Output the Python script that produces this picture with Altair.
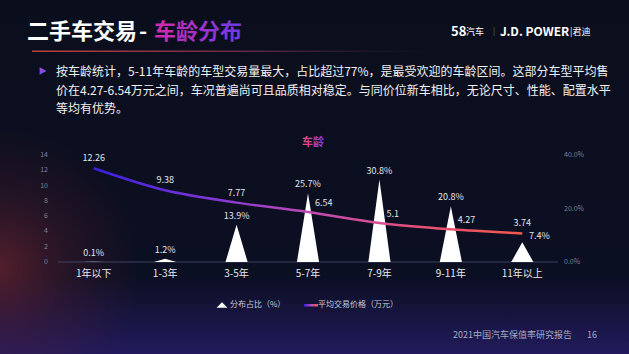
import altair as alt
import pandas as pd

# ---------------- data ----------------
categories = ["1年以下", "1-3年", "3-5年", "5-7年", "7-9年", "9-11年", "11年以上"]
share = [0.1, 1.2, 13.9, 25.7, 30.8, 20.8, 7.4]            # 分布占比 (%)
price = [12.26, 9.38, 7.77, 6.54, 5.1, 4.27, 3.74]          # 平均交易价格 (万元)
price_ticks = [0, 2, 4, 6, 8, 10, 12, 14]
share_ticks = [0, 20, 40]
share_tick_labels = ["0.0%", "20.0%", "40.0%"]
price_label_pos = ["above", "above", "above", "right", "right", "right", "above"]
share_label_pos = ["above", "above", "above", "above", "above", "above", "right"]

title_white = "二手车交易"
title_dash = "-"
title_color = "车龄分布"
body_lines = [
    "按车龄统计，5-11年车龄的车型交易量最大，占比超过77%，是最受欢迎的车龄区间。这部分车型平均售",
    "价在4.27-6.54万元之间，车况普遍尚可且品质相对稳定。与同价位新车相比，无论尺寸、性能、配置水平",
    "等均有优势。",
]
chart_title = "车龄"
legend_share = "分布占比（%）"
legend_price = "平均交易价格（万元）"
footer = "2021中国汽车保值率研究报告"
page_no = "16"

FONT = "Noto Sans CJK SC"
W, H = 629, 354
X_RANGE = [58, 558]
Y_RANGE = [262, 155]
HALF_W = 0.155

main_df = pd.DataFrame({
    "idx": list(range(len(categories))),
    "cat": categories,
    "share": share,
    "price": price,
    "ppos": price_label_pos,
    "spos": share_label_pos,
})
main_df["share_lbl"] = [f"{v}%" for v in share]
main_df["price_lbl"] = [f"{v:g}" for v in price]

tri_rows = []
for i, (c, v) in enumerate(zip(categories, share)):
    tri_rows += [
        {"cat": c, "x": i - HALF_W, "y": 0},
        {"cat": c, "x": i, "y": v},
        {"cat": c, "x": i + HALF_W, "y": 0},
    ]
tri_df = pd.DataFrame(tri_rows)

ptick_df = pd.DataFrame({"v": price_ticks, "lbl": [str(t) for t in price_ticks]})
stick_df = pd.DataFrame({"v": share_ticks, "lbl": share_tick_labels})
one = pd.DataFrame({"a": [1]})

xs = alt.Scale(domain=[-0.5, len(categories) - 0.5], range=X_RANGE)
ys_price = alt.Scale(domain=[0, 14], range=Y_RANGE)
ys_share = alt.Scale(domain=[0, 40], range=Y_RANGE)


def grad(stops, x1=0, y1=0, x2=1, y2=0):
    return {"gradient": "linear", "x1": x1, "y1": y1, "x2": x2, "y2": y2,
            "stops": [{"offset": o, "color": c} for o, c in stops]}


line_grad = grad([(0, "#3a1fe0"), (0.3, "#8538d2"), (0.5, "#c04ab4"),
                  (0.75, "#e4507c"), (1, "#f2574a")])


def rect(x, x2, y, y2, fill):
    return alt.Chart(one).mark_rect(fill=fill).encode(
        x=alt.value(x), x2=alt.value(x2), y=alt.value(y), y2=alt.value(y2))


def txt(t, x, y, size, color, align="left", weight="normal", baseline="middle"):
    return alt.Chart(one).mark_text(
        text=t, font=FONT, fontSize=size, fill=color, align=align,
        fontWeight=weight, baseline=baseline).encode(x=alt.value(x), y=alt.value(y))


layers = []
# ---------------- background ----------------
layers.append(rect(0, W, 0, H, grad([(0, "#0a0e1c"), (0.78, "#0b0f22"), (1, "#221a5c")],
                                     0, 0, 0, 1)))
layers.append(rect(0, 280, 90, H, {
    "gradient": "radial", "x1": 0, "y1": 0.66, "r1": 0, "x2": 0, "y2": 0.66, "r2": 0.5,
    "stops": [{"offset": 0, "color": "rgba(130,40,50,0.6)"},
              {"offset": 0.5, "color": "rgba(110,35,50,0.25)"},
              {"offset": 1, "color": "rgba(110,35,50,0)"}]}))

# ---------------- header ----------------
layers.append(txt(title_white, 27, 32, 22, "#ffffff", weight="bold"))
layers.append(txt(title_dash, 143, 32, 22, "#ffffff", align="center", weight="bold"))
layers.append(alt.Chart(one).mark_text(
    text=title_color, font=FONT, fontSize=22, fontWeight="bold", align="left",
    baseline="middle", fill=grad([(0, "#d42aa8"), (1, "#6a3ae6")])
).encode(x=alt.value(154), y=alt.value(32)))
layers.append(rect(32, 440, 50.5, 52, grad([(0, "#c0403a"), (0.5, "#6a2a4a"), (1, "rgba(40,30,70,0)")])))
layers.append(txt("58", 451, 32, 13, "#ffffff", weight="bold"))
layers.append(txt("汽车", 466, 32, 9, "#ffffff"))
layers.append(txt("|", 493, 32, 8, "#666a80"))
layers.append(txt("J.D. POWER", 500, 32, 12, "#ffffff", weight="bold"))
layers.append(txt("|君迪", 570, 32, 9, "#ffffff"))

# bullet + body text
layers.append(alt.Chart(one).mark_point(
    shape="triangle-right", filled=True, size=60, opacity=1,
    fill=grad([(0, "#c040e0"), (1, "#4a5cf0")], 0, 0, 0, 1)
).encode(x=alt.value(43), y=alt.value(71)))
for k, line in enumerate(body_lines):
    layers.append(txt(line, 56, 72 + 18.5 * k, 12, "#f2f2f2"))

# chart title
layers.append(alt.Chart(one).mark_text(
    text=chart_title, font=FONT, fontSize=11, fontWeight="bold", align="center",
    baseline="middle", fill=grad([(0, "#f0506a"), (1, "#8a3ae0")])
).encode(x=alt.value(313), y=alt.value(143)))

# ---------------- axes ----------------
layers.append(alt.Chart(one).mark_rule(color="#3c4260", strokeWidth=1).encode(
    x=alt.value(X_RANGE[0]), x2=alt.value(X_RANGE[1]), y=alt.value(Y_RANGE[0])))
layers.append(alt.Chart(ptick_df).mark_text(
    font=FONT, fontSize=7, fill="#7d8298", align="right", baseline="middle").encode(
    x=alt.value(48), y=alt.Y("v:Q", scale=ys_price, axis=None), text="lbl:N"))
layers.append(alt.Chart(stick_df).mark_text(
    font=FONT, fontSize=7, fill="#7d8298", align="left", baseline="middle").encode(
    x=alt.value(564), y=alt.Y("v:Q", scale=ys_share, axis=None), text="lbl:N"))
layers.append(alt.Chart(main_df).mark_text(
    font=FONT, fontSize=10, fill="#e8e8ee", align="center", baseline="middle").encode(
    x=alt.X("idx:Q", scale=xs, axis=None), y=alt.value(274), text="cat:N"))

# ---------------- marks ----------------
layers.append(alt.Chart(tri_df).mark_area(color="#ffffff", opacity=1).encode(
    x=alt.X("x:Q", scale=xs, axis=None),
    y=alt.Y("y:Q", scale=ys_share, axis=None),
    detail="cat:N"))
layers.append(alt.Chart(main_df).mark_line(
    interpolate="monotone", stroke=line_grad, strokeWidth=2.5).encode(
    x=alt.X("idx:Q", scale=xs, axis=None),
    y=alt.Y("price:Q", scale=ys_price, axis=None)))

# value labels
lab = dict(font=FONT, fontSize=9, fill="#e4e4ea", baseline="middle")
base = alt.Chart(main_df)
layers.append(base.transform_filter("datum.ppos == 'above'").mark_text(
    align="center", dy=-10, **lab).encode(
    x=alt.X("idx:Q", scale=xs, axis=None),
    y=alt.Y("price:Q", scale=ys_price, axis=None), text="price_lbl:N"))
layers.append(base.transform_filter("datum.ppos == 'right'").mark_text(
    align="left", dx=7, dy=-9, **lab).encode(
    x=alt.X("idx:Q", scale=xs, axis=None),
    y=alt.Y("price:Q", scale=ys_price, axis=None), text="price_lbl:N"))
layers.append(base.transform_filter("datum.spos == 'above'").mark_text(
    align="center", dy=-9, **lab).encode(
    x=alt.X("idx:Q", scale=xs, axis=None),
    y=alt.Y("share:Q", scale=ys_share, axis=None), text="share_lbl:N"))
layers.append(base.transform_filter("datum.spos == 'right'").mark_text(
    align="center", dx=17, dy=-6, **lab).encode(
    x=alt.X("idx:Q", scale=xs, axis=None),
    y=alt.Y("share:Q", scale=ys_share, axis=None), text="share_lbl:N"))

# ---------------- legend ----------------
layers.append(alt.Chart(one).mark_point(
    shape="M -1 0.5 L 0 -0.5 L 1 0.5 Z", filled=True, size=121, fill="#ffffff", opacity=1
).encode(x=alt.value(222), y=alt.value(305)))
layers.append(txt(legend_share, 230, 305, 8, "#c8cad6"))
layers.append(rect(304, 318, 304, 306.5, grad([(0, "#3a1fe0"), (0.5, "#b048c0"), (1, "#f2574a")])))
layers.append(txt(legend_price, 318, 305, 8, "#c8cad6"))

# footer
layers.append(txt(footer, 453, 335, 9, "#a6a9bf"))
layers.append(txt(page_no, 592, 335, 9, "#a6a9bf", align="center"))

chart = alt.layer(*layers).resolve_scale(x="independent", y="independent").properties(
    width=W, height=H, padding=0,
    autosize=alt.AutoSizeParams(type="none"),
    background="#0a0e1c",
).configure_view(stroke=None)

chart.save("out.html", embed_options={"renderer": "svg", "actions": False})
